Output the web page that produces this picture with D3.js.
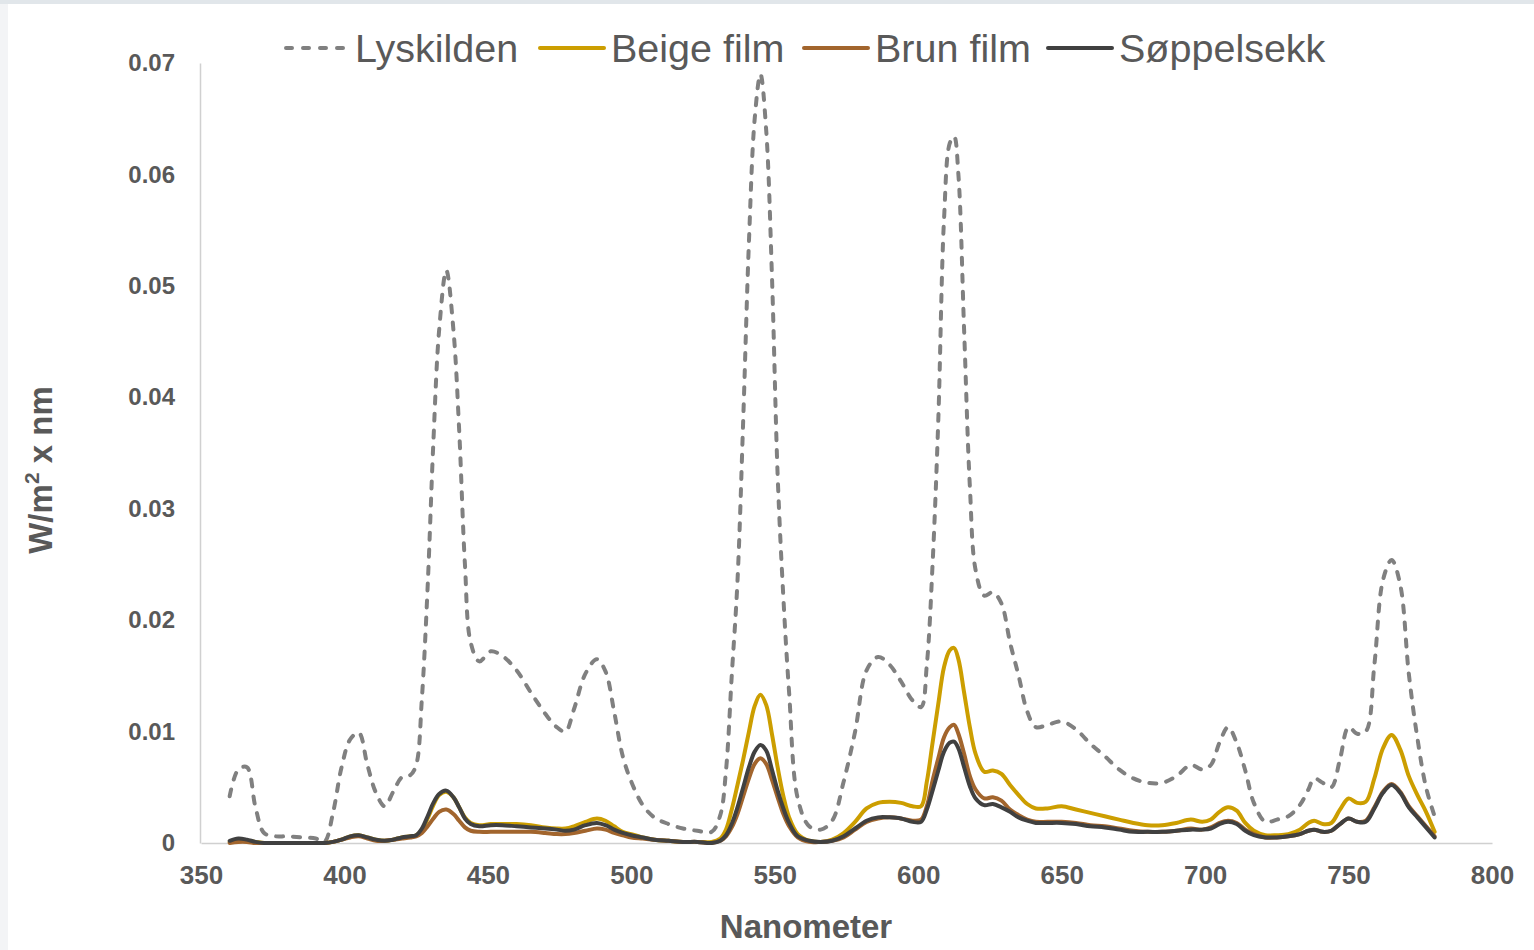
<!DOCTYPE html>
<html>
<head>
<meta charset="utf-8">
<script src="https://cdn.jsdelivr.net/npm/d3@7"></script>
<style>
  html, body { margin: 0; padding: 0; background: #f3f4f6; }
  svg { display: block; }
</style>
</head>
<body>
<svg id="chart" width="1534" height="950"></svg>
<script>
// ---- Data (wavelength in nm) ----
const wavelengths = [360,363,366,369,372,376,380,385,390,
393,396,399,402,405,408,411,414,417,420,
423,425,427,429,431,433,435.5,438,440,442,
444,447,451,455,460,465,470,474,477,480,
484,488,491,494,497,500,504,508,513,518,
523,528,531,533,535,537,539,541,543,545,
547,549,551,553,555,558,562,566,570,574,
578,582,586,590,594,598,601,603,605,607,
609,611,612.5,614,616,618,620,623,626,629,
632,635,638,641,645,650,655,660,665,670,
675,680,685,690,695,699,702,705,708,711,
714,717,721,725,729,733,736,738,741,744,
747,750,753,756,759,762,765,768,771,774,
777,780];

const lyskilden = [0.0042,0.0066,0.0068,0.0032,0.0009,0.0006,0.0006,0.0005,0.0004,
0.0001,0.0027,0.0068,0.0093,0.0099,0.0070,0.0045,0.0033,0.0046,0.0059,
0.0061,0.0070,0.0130,0.0230,0.0360,0.0460,0.0514,0.0460,0.0370,0.0250,
0.0180,0.0163,0.0172,0.0168,0.0155,0.0135,0.0116,0.0104,0.0100,0.0120,
0.0152,0.0165,0.0154,0.0118,0.0078,0.0055,0.0034,0.0023,0.0017,0.0013,
0.0011,0.0010,0.0025,0.0065,0.0150,0.0235,0.0380,0.0540,0.0650,0.0690,
0.0640,0.0510,0.0330,0.0220,0.0135,0.0040,0.0015,0.0012,0.0020,0.0055,
0.0100,0.0155,0.0167,0.0160,0.0145,0.0128,0.0122,0.0160,0.0250,0.0380,
0.0560,0.0628,0.0634,0.0600,0.0460,0.0320,0.0245,0.0222,0.0225,0.0215,
0.0180,0.0150,0.0118,0.0104,0.0106,0.0109,0.0102,0.0089,0.0078,0.0066,
0.0058,0.0054,0.0054,0.0060,0.0070,0.0066,0.0070,0.0090,0.0104,0.0090,
0.0065,0.0036,0.0019,0.0021,0.0024,0.0034,0.0048,0.0058,0.0054,0.0050,
0.0075,0.0104,0.0098,0.0100,0.0160,0.0236,0.0254,0.0232,0.0152,0.0094,
0.0050,0.0024];

const beigeFilm = [0.0001,0.0002,0.0002,0.0001,0,0,0,0,0,
0,0.0001,0.0003,0.0006,0.0007,0.0005,0.0003,0.0002,0.0003,0.0005,
0.0006,0.0007,0.0012,0.0022,0.0034,0.0043,0.0046,0.0041,0.0032,0.0023,
0.0018,0.0016,0.0017,0.0017,0.0017,0.0016,0.0014,0.0013,0.0013,0.0015,
0.0019,0.0022,0.0020,0.0015,0.0010,0.0008,0.0005,0.0003,0.0002,0.0001,
0.0001,0.0001,0.0004,0.0012,0.0030,0.0052,0.0075,0.0100,0.0123,0.0133,
0.0124,0.0098,0.0068,0.0042,0.0023,0.0008,0.0002,0.0001,0.0003,0.0009,
0.0019,0.0031,0.0036,0.0037,0.0036,0.0033,0.0033,0.0055,0.0090,0.0125,
0.0158,0.0173,0.0175,0.0165,0.0135,0.0104,0.0080,0.0064,0.0065,0.0062,
0.0052,0.0043,0.0035,0.0031,0.0031,0.0033,0.0030,0.0027,0.0024,0.0021,
0.0018,0.0016,0.0016,0.0018,0.0021,0.0019,0.0021,0.0028,0.0032,0.0029,
0.0018,0.0011,0.0007,0.0007,0.0008,0.0012,0.0018,0.0020,0.0017,0.0018,
0.0030,0.0040,0.0036,0.0037,0.0058,0.0085,0.0097,0.0084,0.0060,0.0043,
0.0028,0.0010];

const brunFilm = [0,0.0001,0.0001,0,0,0,0,0,0,
0,0.0001,0.0003,0.0005,0.0006,0.0004,0.0002,0.0002,0.0003,0.0004,
0.0005,0.0006,0.0009,0.0015,0.0022,0.0028,0.0030,0.0026,0.0020,0.0014,
0.0011,0.0010,0.0010,0.0010,0.0010,0.0010,0.0009,0.0008,0.0008,0.0009,
0.0011,0.0013,0.0012,0.0009,0.0007,0.0005,0.0004,0.0003,0.0002,0.0001,
0.0001,0,0.0002,0.0006,0.0014,0.0026,0.0042,0.0058,0.0071,0.0076,
0.0071,0.0057,0.0041,0.0026,0.0015,0.0005,0.0001,0.0001,0.0002,0.0005,
0.0012,0.0019,0.0022,0.0023,0.0022,0.0020,0.0021,0.0033,0.0056,0.0076,
0.0095,0.0104,0.0106,0.0098,0.0080,0.0060,0.0048,0.0040,0.0041,0.0038,
0.0030,0.0025,0.0021,0.0019,0.0019,0.0019,0.0018,0.0016,0.0015,0.0013,
0.0011,0.0010,0.0010,0.0011,0.0013,0.0012,0.0014,0.0018,0.0020,0.0018,
0.0012,0.0008,0.0005,0.0005,0.0006,0.0008,0.0011,0.0012,0.0010,0.0011,
0.0017,0.0022,0.0019,0.0020,0.0032,0.0046,0.0053,0.0046,0.0033,0.0024,
0.0015,0.0006];

const soppelsekk = [0.0002,0.0004,0.0003,0.0001,0,0,0,0,0,
0,0.0001,0.0003,0.0006,0.0007,0.0005,0.0003,0.0002,0.0003,0.0005,
0.0006,0.0007,0.0013,0.0024,0.0036,0.0044,0.0047,0.0041,0.0032,0.0022,
0.0017,0.0015,0.0016,0.0016,0.0015,0.0014,0.0013,0.0012,0.0011,0.0012,
0.0016,0.0018,0.0016,0.0012,0.0009,0.0007,0.0005,0.0003,0.0002,0.0001,
0.0001,0,0.0002,0.0007,0.0017,0.0032,0.0050,0.0068,0.0082,0.0088,
0.0083,0.0066,0.0047,0.0031,0.0018,0.0006,0.0002,0.0001,0.0002,0.0006,
0.0013,0.0020,0.0023,0.0023,0.0022,0.0019,0.0019,0.0030,0.0047,0.0065,
0.0082,0.0090,0.0091,0.0085,0.0068,0.0051,0.0040,0.0034,0.0035,0.0032,
0.0028,0.0023,0.0020,0.0018,0.0018,0.0018,0.0017,0.0015,0.0014,0.0012,
0.0010,0.0010,0.0010,0.0011,0.0012,0.0012,0.0013,0.0017,0.0019,0.0017,
0.0011,0.0007,0.0005,0.0005,0.0006,0.0008,0.0011,0.0012,0.0010,0.0011,
0.0017,0.0022,0.0019,0.0019,0.0031,0.0045,0.0052,0.0045,0.0032,0.0023,
0.0014,0.0005];

const seriesNames = ["Lyskilden", "Beige film", "Brun film", "Søppelsekk"];
const xTicks = [350, 400, 450, 500, 550, 600, 650, 700, 750, 800];
const yTicks = [0, 0.01, 0.02, 0.03, 0.04, 0.05, 0.06, 0.07];
const xTitle = "Nanometer";

// ---- Styles ----
const styles = [
  { color: "#808080", width: 4, dash: "7,10" },
  { color: "#CC9E00", width: 4, dash: null },
  { color: "#A2652D", width: 4, dash: null },
  { color: "#404040", width: 4, dash: null }
];
const seriesValues = [lyskilden, beigeFilm, brunFilm, soppelsekk];

const svg = d3.select("#chart");
svg.append("rect").attr("x", 0).attr("y", 0).attr("width", 1534).attr("height", 4).attr("fill", "#e1e6ea");
svg.append("rect").attr("x", 8).attr("y", 4).attr("width", 1526).attr("height", 946).attr("fill", "#ffffff");

const x = d3.scaleLinear().domain([350, 800]).range([201, 1492]);
const y = d3.scaleLinear().domain([0, 0.07]).range([843, 63]);

const textColor = "#595959";
const fontFam = "'Liberation Sans', Arial, sans-serif";

// axes
const xAxis = d3.axisBottom(x).tickValues(xTicks).tickSize(0).tickPadding(20).tickFormat(d3.format("d"));
const gx = svg.append("g").attr("transform", `translate(0,${y(0)})`).call(xAxis);
gx.select(".domain").attr("stroke", "#d0d0d0").attr("stroke-width", 1.5);
gx.selectAll("text").attr("fill", textColor).attr("font-family", fontFam)
  .attr("font-size", 26).attr("font-weight", "bold").attr("dy", "0.35em").attr("y", 32);

const yAxis = d3.axisLeft(y).tickValues(yTicks).tickSize(0).tickPadding(25)
  .tickFormat(d => d === 0 ? "0" : d3.format(".2f")(d));
const gy = svg.append("g").attr("transform", `translate(${x(350) - 1},0)`).call(yAxis);
gy.select(".domain").attr("stroke", "#d0d0d0").attr("stroke-width", 1.5);
gy.selectAll("text").attr("fill", textColor).attr("font-family", fontFam)
  .attr("font-size", 24).attr("font-weight", "bold");

// lines
const line = d3.line()
  .x((d, i) => x(wavelengths[i]))
  .y(d => y(d))
  .curve(d3.curveCatmullRom.alpha(0.5));

seriesValues.forEach((vals, k) => {
  const p = svg.append("path")
    .datum(vals)
    .attr("d", line)
    .attr("fill", "none")
    .attr("stroke", styles[k].color)
    .attr("stroke-width", styles[k].width)
    .attr("stroke-linejoin", "round")
    .attr("stroke-linecap", "round");
  if (styles[k].dash) p.attr("stroke-dasharray", styles[k].dash);
});

// axis titles
svg.append("text")
  .attr("x", 806).attr("y", 938)
  .attr("text-anchor", "middle")
  .attr("fill", textColor).attr("font-family", fontFam)
  .attr("font-size", 33).attr("font-weight", "bold")
  .text(xTitle);

const yt = svg.append("text")
  .attr("transform", "translate(52,470) rotate(-90)")
  .attr("text-anchor", "middle")
  .attr("fill", textColor).attr("font-family", fontFam)
  .attr("font-size", 33).attr("font-weight", "bold");
yt.append("tspan").text("W/m");
yt.append("tspan").attr("font-size", 21).attr("dy", -13).text("2");
yt.append("tspan").attr("dy", 13).text(" x nm");

// legend
const legendPos = [282, 538, 802, 1046];
const lg = svg.append("g");
seriesNames.forEach((name, k) => {
  const g = lg.append("g").attr("transform", `translate(${legendPos[k]},48)`);
  const ln = g.append("line").attr("x1", 2).attr("x2", 66).attr("y1", 0).attr("y2", 0)
    .attr("stroke", styles[k].color).attr("stroke-width", styles[k].width)
    .attr("stroke-linecap", "round");
  if (styles[k].dash) ln.attr("stroke-dasharray", "6,11").attr("x1", 4);
  g.append("text").attr("x", 73).attr("y", 0).attr("dy", "0.36em")
    .attr("fill", textColor).attr("font-family", fontFam)
    .attr("font-size", 39.5)
    .text(name);
});
</script>
</body>
</html>
